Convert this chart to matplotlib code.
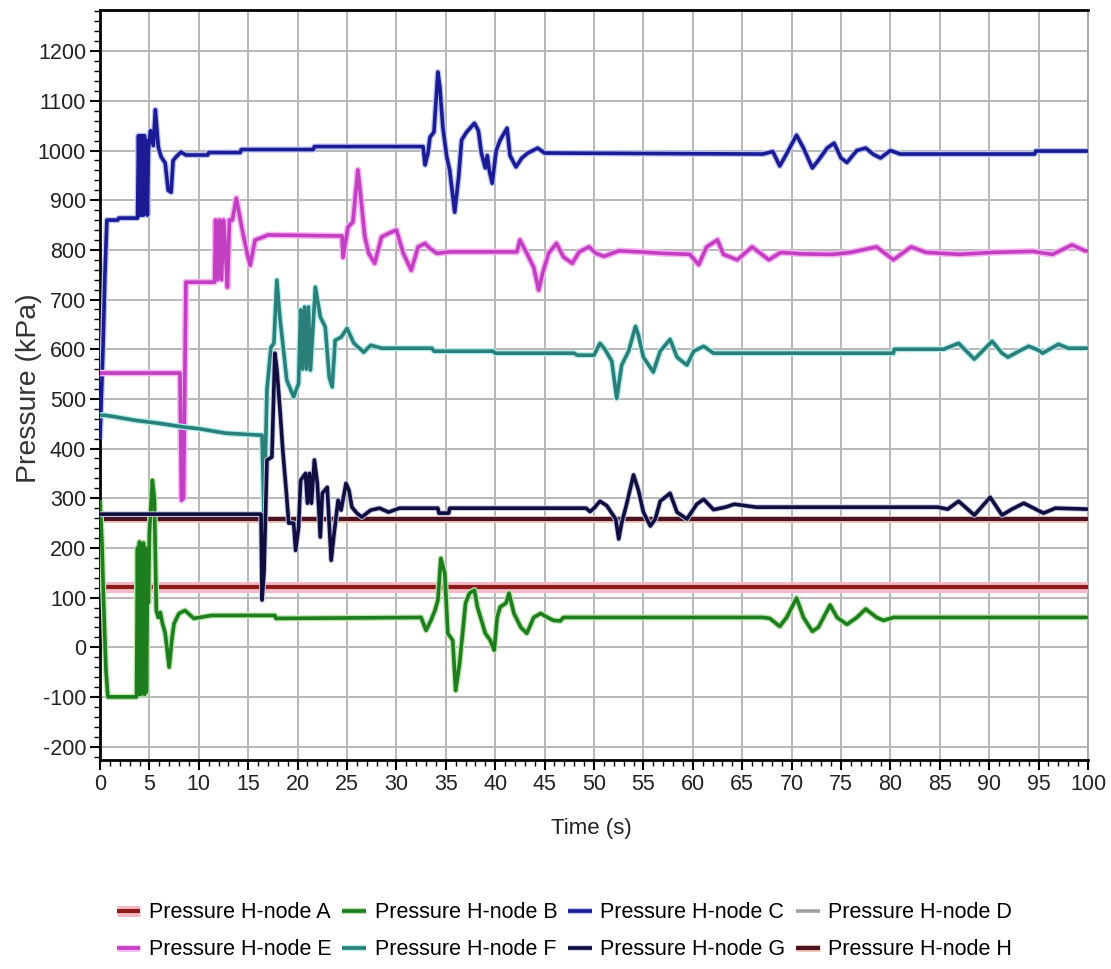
import matplotlib
matplotlib.use("Agg")
import matplotlib.pyplot as plt
import matplotlib.patheffects as pe
from matplotlib.ticker import MultipleLocator

# ---- data (time in s, pressure in kPa) ----
t_A = [0, 100]
p_A = [121, 121]

t_B = [0, 0.2, 0.35, 0.6, 0.8, 3.7, 3.8, 3.9, 4.0, 4.1, 4.2, 4.3, 4.4, 4.5, 4.6, 4.7, 4.8,
       4.9, 5.0, 5.3, 5.5, 5.7, 5.9, 6.1, 6.3, 6.6, 7.0, 7.3, 7.5, 8.0, 8.6, 9.5, 11.3, 17.7,
       17.8, 32.5, 33.0, 33.5, 33.9, 34.2, 34.5, 34.9, 35.2, 35.7, 36.0, 36.4, 36.7, 37.0, 37.4,
       37.9, 38.2, 38.7, 39.0, 39.5, 39.9, 40.2, 40.5, 41.1, 41.4, 41.9, 42.6, 43.2, 43.9, 44.6,
       45.3, 45.9, 46.6, 46.9, 67.1, 67.8, 68.8, 69.5, 70.5, 71.2, 72.1, 72.7, 73.9, 74.6, 75.6,
       76.6, 77.5, 78.6, 79.3, 80.3, 80.8, 100]
p_B = [296, 209, 101, -46, -100, -100, 200, -95, 212, -95, 205, -90, 210, -95, 200, -90, 120,
       90, 230, 336, 300, 74, 60, 70, 50, 28, -40, 20, 48, 68, 74, 58, 64, 64,
       58, 60, 34, 54, 74, 95, 179, 149, 28, 14, -87, -32, 28, 89, 109,
       115, 81, 48, 28, 14, -6, 60, 81, 89, 109, 68, 40, 28, 60, 68,
       60, 54, 53, 60, 60, 58, 42, 60, 99, 60, 32, 40, 85, 60, 46,
       60, 77, 60, 54, 60, 60, 60]

t_C = [0, 0.3, 0.5, 0.7, 1.8, 1.9, 3.8, 3.9, 4.0, 4.1, 4.2, 4.3, 4.4, 4.5, 4.6, 4.7, 4.8, 4.9,
       5.1, 5.4, 5.6, 5.9, 6.2, 6.6, 6.9, 7.2, 7.4, 7.7, 8.2, 8.7, 10.9, 11.0, 14.2, 14.3, 21.6,
       21.7, 32.7, 32.9, 33.2, 33.4, 33.8, 34.2, 34.4, 34.7, 35.1, 35.4, 35.9, 36.3, 36.6, 37.1,
       37.9, 38.3, 38.6, 39.0, 39.2, 39.4, 39.7, 40.1, 40.5, 41.2, 41.5, 42.1, 42.7, 43.3, 44.3,
       45.0, 67.1, 68.1, 68.8, 69.4, 70.5, 71.2, 72.1, 72.7, 73.6, 74.3, 75.0, 75.6, 76.6, 77.5,
       78.3, 79.0, 80.0, 81.0, 94.6, 94.7, 100]
p_C = [420, 600, 750, 860, 860, 864, 864, 1030, 870, 1030, 870, 1030, 870, 1030, 880, 1020, 870,
       1000, 1040, 1010, 1082, 1007, 987, 975, 920, 916, 980, 987, 997, 991, 991, 996, 996, 1002,
       1002, 1008, 1008, 971, 995, 1027, 1037, 1158, 1128, 1047, 987, 960, 876, 947, 1021, 1037,
       1055, 1040, 995, 965, 990, 960, 934, 1000, 1021, 1045, 990, 967, 985, 995, 1005,
       995, 993, 998, 969, 990, 1031, 1005, 965, 980, 1005, 1015, 985, 976, 1000, 1005,
       992, 985, 1000, 993, 993, 999, 999]

t_D = [0, 100]
p_D = [120, 120]

t_E = [0, 8.1, 8.25, 8.45, 8.7, 11.6, 11.7, 11.9, 12.1, 12.3, 12.5, 12.7, 12.9, 13.1, 13.4,
       13.8, 14.4, 14.9, 15.2, 15.7, 16.4, 17.0, 24.5, 24.6, 25.1, 25.6, 26.1, 26.4, 26.8, 27.2,
       27.8, 28.5, 29.3, 30.0, 30.7, 31.5, 32.2, 32.9, 33.4, 34.1, 35.4, 42.2, 42.5, 43.2, 43.9,
       44.4, 44.8, 45.4, 46.2, 46.9, 47.8, 48.5, 49.5, 50.2, 51.0, 52.5, 54.6, 57.0, 59.7, 60.6,
       61.4, 62.5, 63.1, 64.5, 66.0, 67.7, 68.9, 71.0, 74.2, 76.0, 78.6, 80.3, 82.1, 83.6, 87.0,
       90.4, 94.4, 96.4, 98.4, 99.7, 100]
p_E = [552, 552, 296, 300, 735, 735, 860, 740, 860, 740, 860, 800, 725, 860, 860,
       904, 840, 793, 769, 820, 825, 830, 828, 785, 846, 856, 961, 906, 827, 793,
       773, 826, 834, 840, 793, 759, 806, 813, 803, 793, 796, 796, 820, 793, 765,
       719, 753, 793, 813, 786, 773, 796, 806, 793, 787, 798, 796, 793, 791, 770,
       806, 820, 791, 780, 806, 780, 795, 792, 791, 795, 806, 780, 806, 795, 791,
       795, 797, 791, 810, 798, 798]

t_F = [0, 0.5, 1.5, 3.5, 5.9, 8.6, 10.0, 12.7, 16.2, 16.4, 16.6, 16.9, 17.3, 17.6, 17.9, 18.2,
       18.5, 18.9, 19.6, 20.1, 20.3, 20.5, 20.7, 20.9, 21.1, 21.3, 21.8, 22.3, 22.8, 23.2, 23.5,
       23.8, 24.4, 25.0, 25.7, 26.7, 27.4, 28.5, 33.6, 33.8, 39.8, 40.0, 48.0, 48.3, 50.0, 50.6,
       51.1, 51.8, 52.3, 52.8, 53.5, 54.2, 54.5, 55.0, 56.0, 56.7, 57.7, 58.4, 59.4, 60.1, 61.1,
       62.1, 63.4, 80.3, 80.4, 85.4, 86.9, 87.7, 88.5, 89.3, 90.3, 91.3, 91.9, 93.0, 94.0, 95.0,
       95.4, 97.0, 98.0, 100]
p_F = [467, 467, 464, 457, 451, 443, 440, 431, 427, 427, 262, 518, 604, 612, 739, 665,
       612, 538, 504, 531, 679, 560, 685, 560, 685, 558, 725, 665, 645, 544, 524,
       618, 624, 642, 612, 594, 608, 602, 602, 596, 596, 592, 592, 588, 588, 612,
       600, 576, 501, 568, 596, 646, 628, 584, 554, 596, 620, 584, 568, 596, 606,
       592, 592, 592, 600, 600, 612, 596, 580, 596, 616, 592, 584, 596, 606, 598,
       592, 610, 602, 602]

t_G = [0, 16.3, 16.4, 16.6, 16.9, 17.4, 17.7, 17.9, 18.2, 18.5, 18.9, 19.1, 19.6, 19.8, 20.1,
       20.3, 20.8, 21.0, 21.2, 21.4, 21.7, 22.0, 22.3, 22.5, 23.0, 23.4, 23.7, 24.1, 24.4, 24.9,
       25.2, 25.5, 26.0, 26.5, 27.0, 27.4, 28.3, 29.2, 30.3, 34.2, 34.3, 35.3, 35.4, 49.2, 49.6,
       50.0, 50.6, 51.3, 52.2, 52.5, 52.8, 53.3, 54.0, 54.5, 55.0, 55.7, 56.2, 56.7, 57.7, 58.4,
       59.4, 60.4, 61.1, 62.1, 63.3, 64.2, 66.4, 84.8, 85.8, 86.9, 87.7, 88.5, 90.1, 91.3, 92.3,
       93.5, 94.7, 95.5, 96.7, 100]
p_G = [268, 268, 95, 150, 377, 383, 592, 560, 483, 397, 302, 250, 250, 195, 241,
       336, 350, 290, 350, 290, 377, 330, 222, 310, 322, 175, 230, 296, 276, 330,
       316, 282, 270, 262, 270, 276, 280, 272, 280, 280, 270, 270, 280, 280, 273,
       280, 294, 285, 258, 218, 250, 288, 347, 316, 272, 244, 258, 294, 310, 272,
       258, 288, 298, 277, 282, 288, 282, 282, 278, 294, 280, 266, 302, 266, 278,
       290, 278, 270, 280, 278]

t_H = [0, 100]
p_H = [258, 258]

labels = ["Pressure H-node A", "Pressure H-node B", "Pressure H-node C", "Pressure H-node D",
          "Pressure H-node E", "Pressure H-node F", "Pressure H-node G", "Pressure H-node H"]
x_ticks = list(range(0, 101, 5))
y_ticks = list(range(-200, 1201, 100))

# ---- styling ----
FONT = ["Liberation Sans", "DejaVu Sans"]
plt.rcParams["font.family"] = FONT
plt.rcParams["axes.unicode_minus"] = False

series = [
    # (t, p, core colour, halo colour, core width, halo width, zorder)
    (t_D, p_D, "#a0a0a0", None, 2.6, 0, 2),
    (t_A, p_A, "#8c1c1c", "#f6b9c8", 3.0, 8.0, 3),
    (t_H, p_H, "#4a1422", "#efc7b8", 3.0, 5.0, 3),
    (t_B, p_B, "#1e7d1e", "#b8e6aa", 2.6, 4.4, 4),
    (t_C, p_C, "#1b1b95", "#bcc4f2", 2.6, 4.4, 4),
    (t_E, p_E, "#c23ec2", "#f7b4f2", 2.6, 4.8, 4),
    (t_F, p_F, "#2b7f79", "#b2eeee", 2.6, 4.4, 4),
    (t_G, p_G, "#0f0f3f", "#c4c4e4", 2.6, 4.0, 5),
]
order = ["D", "A", "H", "B", "C", "E", "F", "G"]

fig = plt.figure(figsize=(11.11, 9.69), dpi=100)
ax = fig.add_axes([0.090, 0.2157, 0.8893, 0.774])

handles = {}
for key, (t, p, col, halo, lw, hw, z) in zip(order, series):
    effects = [pe.Stroke(linewidth=hw, foreground=halo), pe.Normal()] if halo else []
    ln, = ax.plot(t, p, color=col, lw=lw, zorder=z, solid_joinstyle="round",
                  solid_capstyle="butt", path_effects=effects)
    handles[key] = ln

ax.set_xlim(0, 100)
ax.set_ylim(-227, 1283)
ax.set_xticks(x_ticks)
ax.set_yticks(y_ticks)
ax.xaxis.set_minor_locator(MultipleLocator(1))
ax.yaxis.set_minor_locator(MultipleLocator(20))
ax.grid(which="major", color="#b8b8b8", lw=1.4, zorder=0)
ax.set_axisbelow(True)

ax.tick_params(which="major", direction="out", length=7, width=1.5, labelsize=15.5, pad=3,
               color="black", labelcolor="#222222")
ax.tick_params(which="minor", direction="out", length=4, width=1.0, color="black")
for s in ("left", "bottom", "top"):
    ax.spines[s].set_linewidth(2.0)
    ax.spines[s].set_color("black")
ax.spines["right"].set_linewidth(1.4)
ax.spines["right"].set_color("#a8a8a8")

ax.set_xlabel("Time (s)", fontsize=16, color="#222222")
ax.xaxis.set_label_coords(0.497, -0.077)
ax.set_ylabel("Pressure (kPa)", fontsize=20.5, color="#333333")
ax.yaxis.set_label_coords(-0.059, 0.496)

legend_keys = ["A", "E", "B", "F", "C", "G", "D", "H"]
legend_labels = [labels["ABCDEFGH".index(k)] for k in legend_keys]
fig.legend([handles[k] for k in legend_keys], legend_labels, ncol=4, loc="center",
           bbox_to_anchor=(0.508, 0.039), frameon=False, fontsize=15.5,
           handlelength=1.1, handletextpad=0.4, columnspacing=0.5, labelspacing=0.75)

fig.savefig("out.png", dpi=100)
